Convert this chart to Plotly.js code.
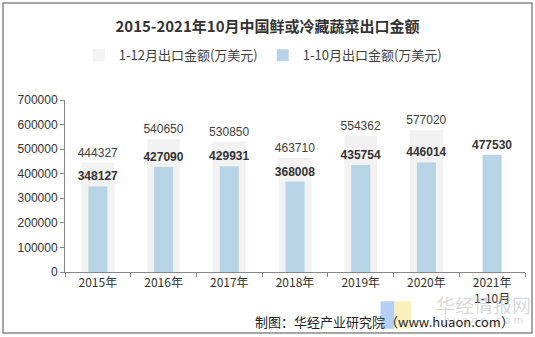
<!DOCTYPE html>
<html><head><meta charset="utf-8">
<script src="https://cdn.plot.ly/plotly-3.0.1.min.js"></script>
<style>html,body{margin:0;padding:0;background:#fff}#c{width:535px;height:337px}</style>
</head><body><div id="c"></div>
<script>
var categories = ['2015年','2016年','2017年','2018年','2019年','2020年','2021年<br>1-10月'];
var fullYear = [444327, 540650, 530850, 463710, 554362, 577020, null];
var janOct = [348127, 427090, 429931, 368008, 435754, 446014, 477530];
var seriesNames = ['1-12月出口金额(万美元)', '1-10月出口金额(万美元)'];

var cjk = '"Noto Sans CJK SC", sans-serif';
var num = '"Liberation Sans", Arial, sans-serif';

var traces = [
  {type:'bar', name:seriesNames[0], x:categories, y:fullYear, width:0.5,
   marker:{color:'#f2f2f2'},
   text:fullYear.map(function(v){return v==null?'':String(v);}),
   textposition:'outside', cliponaxis:false, constraintext:'none',
   textfont:{family:num, size:12, color:'#404040'}, hoverinfo:'none'},
  {type:'bar', name:seriesNames[1], x:categories, y:janOct, width:0.29,
   marker:{color:'#b7d4e6'},
   text:janOct.map(function(v){return '<b>'+v+'</b>';}),
   textposition:'outside', cliponaxis:false, constraintext:'none',
   textfont:{family:num, size:12, color:'#333'}, hoverinfo:'none'}
];

var layout = {
  width:535, height:337, barmode:'overlay',
  margin:{l:65, r:10, t:100, b:65},
  paper_bgcolor:'#fff', plot_bgcolor:'#fff',
  showlegend:true,
  title:{text:'<b>2015-2021年10月中国鲜或冷藏蔬菜出口金额</b>', font:{family:cjk, size:15, color:'#333'},
         x:0.5, xanchor:'center', y:0.922, yanchor:'middle', yref:'container'},
  legend:{orientation:'h', x:0.43, xanchor:'center', y:1.26, yanchor:'middle',
          font:{family:cjk, size:13, color:'#404040'}, traceorder:'normal', itemwidth:10},
  xaxis:{type:'category', showline:true, linecolor:'#888', linewidth:1,
         ticks:'outside', tickson:'boundaries', ticklen:4, tickcolor:'#888',
         tickfont:{family:cjk, size:12, color:'#333'}, showgrid:false, fixedrange:true},
  yaxis:{range:[0,700000], dtick:100000, showline:true, linecolor:'#888', linewidth:1,
         ticks:'outside', ticklen:4, tickcolor:'#888', showgrid:false, zeroline:false,
         tickfont:{family:num, size:12, color:'#333'}, tickformat:'d', fixedrange:true},
  shapes:[
    {type:'rect', xref:'paper', yref:'paper', x0:-0.1348, x1:1.0152, y0:-0.3547, y1:1.564,
     line:{color:'#888', width:1.5}, fillcolor:'rgba(0,0,0,0)', layer:'below'},
    {type:'rect', xref:'paper', yref:'paper', x0:0.686, x1:0.716, y0:-0.33, y1:-0.17,
     line:{width:0}, fillcolor:'rgba(120,170,240,0.55)'},
    {type:'rect', xref:'paper', yref:'paper', x0:0.716, x1:0.752, y0:-0.33, y1:-0.17,
     line:{width:0}, fillcolor:'rgba(250,230,140,0.6)'}
  ],
  annotations:[
    {text:'华经情报网', xref:'paper', yref:'paper', x:0.91, y:-0.19, xanchor:'center', yanchor:'middle',
     showarrow:false, font:{family:cjk, size:19, color:'rgba(170,170,170,0.45)'}},
    {text:'h u a o n . c o m', xref:'paper', yref:'paper', x:0.91, y:-0.28, xanchor:'center', yanchor:'middle',
     showarrow:false, font:{family:num, size:11, color:'rgba(170,170,170,0.45)'}},
    {text:'制图：华经产业研究院（www.huaon.com）', xref:'paper', yref:'paper', x:0.695, y:-0.29,
     xanchor:'center', yanchor:'middle', showarrow:false, font:{family:cjk, size:13, color:'#222'}}
  ]
};
Plotly.newPlot('c', traces, layout, {displayModeBar:false, staticPlot:true});
</script></body></html>
